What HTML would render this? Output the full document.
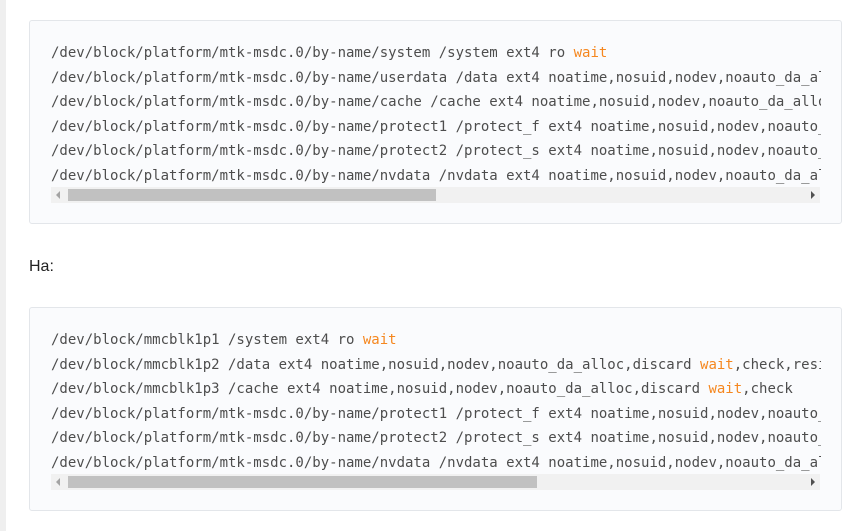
<!DOCTYPE html>
<html><head><meta charset="utf-8"><style>
body{margin:0;width:859px;height:531px;background:#fff;position:relative;overflow:hidden;font-family:"Liberation Sans",sans-serif}
.strip{position:absolute;left:0;top:0;width:6px;height:531px;background:#efefef}
.box{position:absolute;left:29px;width:811px;height:202px;background:#fafbfd;border:1px solid #e3e6ea;border-radius:3px}
.code{position:absolute;left:21px;top:20px;width:770px;overflow:hidden;font-family:"DejaVu Sans Mono","Liberation Mono",monospace;font-size:14px;color:#4d4d4d;white-space:pre;line-height:24.6px}
.w{color:#f5871f}
.sb{position:absolute;left:21px;width:769px;height:16px;background:#f1f1f1}
.th{position:absolute;top:2px;height:12px;left:17px;background:#c1c1c1}
.la{position:absolute;left:5px;top:4px;width:0;height:0;border-top:4px solid transparent;border-bottom:4px solid transparent;border-right:4px solid #a3a3a3}
.ra{position:absolute;right:5px;top:4px;width:0;height:0;border-top:4px solid transparent;border-bottom:4px solid transparent;border-left:4px solid #505050}
.ha{position:absolute;left:29px;top:258px;font-size:16px;color:#222}
</style></head><body>
<div class="strip"></div>
<div class="box" style="top:20px">
<div class="code">/dev/block/platform/mtk-msdc.0/by-name/system /system ext4 ro <span class="w">wait</span>
/dev/block/platform/mtk-msdc.0/by-name/userdata /data ext4 noatime,nosuid,nodev,noauto_da_alloc
/dev/block/platform/mtk-msdc.0/by-name/cache /cache ext4 noatime,nosuid,nodev,noauto_da_alloc
/dev/block/platform/mtk-msdc.0/by-name/protect1 /protect_f ext4 noatime,nosuid,nodev,noauto_da
/dev/block/platform/mtk-msdc.0/by-name/protect2 /protect_s ext4 noatime,nosuid,nodev,noauto_da
/dev/block/platform/mtk-msdc.0/by-name/nvdata /nvdata ext4 noatime,nosuid,nodev,noauto_da_alloc</div>
<div class="sb" style="top:166px"><div class="la"></div><div class="th" style="width:368px"></div><div class="ra"></div></div>
</div>
<div class="ha">Ha:</div>
<div class="box" style="top:307px">
<div class="code">/dev/block/mmcblk1p1 /system ext4 ro <span class="w">wait</span>
/dev/block/mmcblk1p2 /data ext4 noatime,nosuid,nodev,noauto_da_alloc,discard <span class="w">wait</span>,check,resize
/dev/block/mmcblk1p3 /cache ext4 noatime,nosuid,nodev,noauto_da_alloc,discard <span class="w">wait</span>,check
/dev/block/platform/mtk-msdc.0/by-name/protect1 /protect_f ext4 noatime,nosuid,nodev,noauto_da
/dev/block/platform/mtk-msdc.0/by-name/protect2 /protect_s ext4 noatime,nosuid,nodev,noauto_da
/dev/block/platform/mtk-msdc.0/by-name/nvdata /nvdata ext4 noatime,nosuid,nodev,noauto_da_alloc</div>
<div class="sb" style="top:166px"><div class="la"></div><div class="th" style="width:469px"></div><div class="ra"></div></div>
</div>
</body></html>
